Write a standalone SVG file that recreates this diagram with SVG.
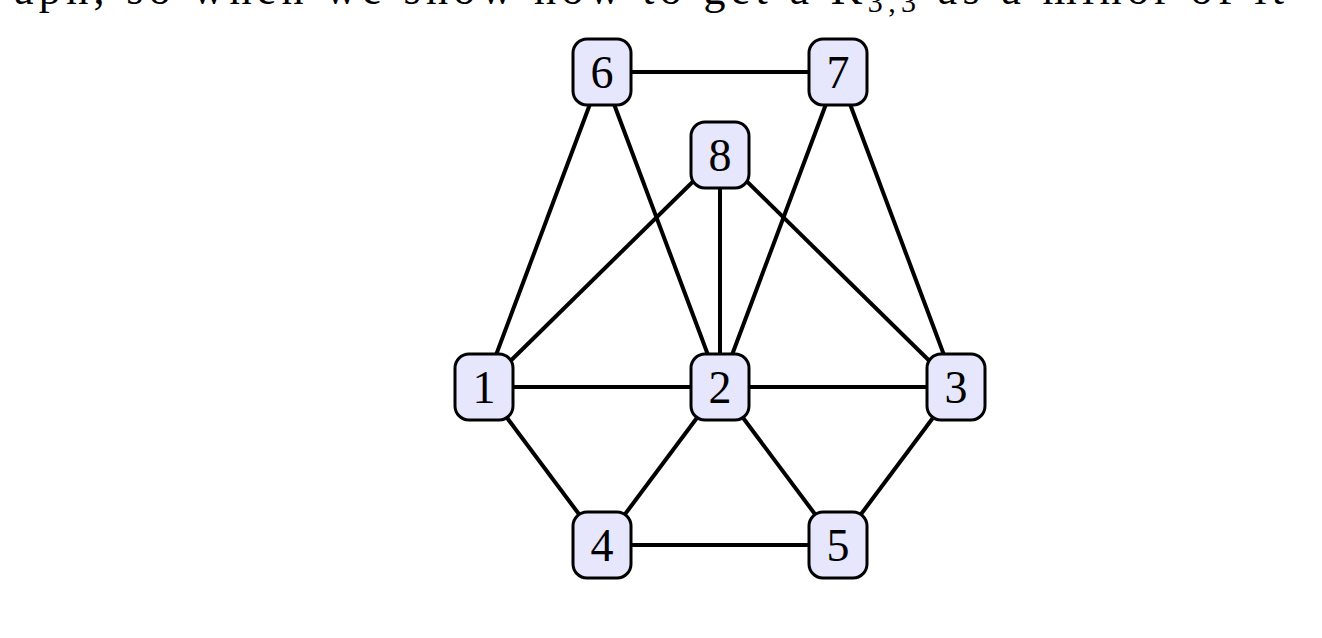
<svg xmlns="http://www.w3.org/2000/svg" width="1322" height="638" viewBox="0 0 1322 638">
<style>
.e{stroke:#000;stroke-width:4}
.n rect{fill:#e6e6fc;stroke:#000;stroke-width:3}
.n text{font-family:"Liberation Serif",serif;font-size:46px;text-anchor:middle}
.top{font-family:"Liberation Serif",serif;font-size:44px}
</style>
<rect width="1322" height="638" fill="#fff"/>
<text class="top" x="14" y="4" textLength="1270" lengthAdjust="spacing">aph, so when we show how to get a K<tspan font-size="30" dy="8">3,3</tspan><tspan dy="-8"> as a minor of it</tspan></text>
<g id="edges">
<line class="e" x1="602" y1="72" x2="838" y2="72"/>
<line class="e" x1="602" y1="72" x2="484" y2="387"/>
<line class="e" x1="602" y1="72" x2="720" y2="387"/>
<line class="e" x1="838" y1="72" x2="720" y2="387"/>
<line class="e" x1="838" y1="72" x2="956" y2="387"/>
<line class="e" x1="720" y1="155" x2="484" y2="387"/>
<line class="e" x1="720" y1="155" x2="720" y2="387"/>
<line class="e" x1="720" y1="155" x2="956" y2="387"/>
<line class="e" x1="484" y1="387" x2="956" y2="387"/>
<line class="e" x1="484" y1="387" x2="602" y2="545"/>
<line class="e" x1="720" y1="387" x2="602" y2="545"/>
<line class="e" x1="720" y1="387" x2="838" y2="545"/>
<line class="e" x1="956" y1="387" x2="838" y2="545"/>
<line class="e" x1="602" y1="545" x2="838" y2="545"/>
</g>
<g id="n1" class="n"><rect x="455" y="354" width="58" height="66" rx="14"/><text x="484" y="403">1</text></g>
<g id="n2" class="n"><rect x="691" y="354" width="58" height="66" rx="14"/><text x="720" y="403">2</text></g>
<g id="n3" class="n"><rect x="927" y="354" width="58" height="66" rx="14"/><text x="956" y="403">3</text></g>
<g id="n4" class="n"><rect x="573" y="512" width="58" height="66" rx="14"/><text x="602" y="561">4</text></g>
<g id="n5" class="n"><rect x="809" y="512" width="58" height="66" rx="14"/><text x="838" y="561">5</text></g>
<g id="n6" class="n"><rect x="573" y="39" width="58" height="66" rx="14"/><text x="602" y="88">6</text></g>
<g id="n7" class="n"><rect x="809" y="39" width="58" height="66" rx="14"/><text x="838" y="88">7</text></g>
<g id="n8" class="n"><rect x="691" y="122" width="58" height="66" rx="14"/><text x="720" y="171">8</text></g>
</svg>
